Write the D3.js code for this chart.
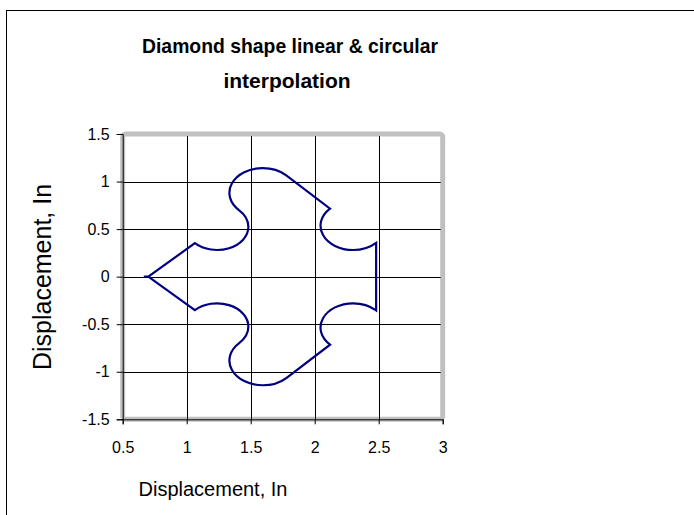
<!DOCTYPE html>
<html>
<head>
<meta charset="utf-8">
<script src="https://cdn.jsdelivr.net/npm/d3@7"></script>
<style>
  html, body { margin: 0; padding: 0; background: #fff; }
  svg { display: block; font-family: Arial, "Liberation Sans", sans-serif; }
</style>
</head>
<body>
<svg id="chart" width="694" height="515"></svg>
<script>
// ---- data ----
const titleLines = ["Diamond shape linear & circular", "interpolation"];
const xAxisTitle = "Displacement, In";
const yAxisTitle = "Displacement, In";
const xTicks = [0.5, 1, 1.5, 2, 2.5, 3];
const xTickLabels = ["0.5", "1", "1.5", "2", "2.5", "3"];
const yTicks = [-1.5, -1, -0.5, 0, 0.5, 1, 1.5];
const yTickLabels = ["-1.5", "-1", "-0.5", "0", "0.5", "1", "1.5"];

// tool path: move / line / circular arc (radius, direction) ending at (x, y)
const pathKind  = ["M",   "L", "L",    "A",    "A",   "A",    "A",    "L",   "A",   "A",   "L",    "A",   "A",    "L",    "A",    "A",    "A",    "A",    "L"];
const pathX     = [0.665, 0.7, 1.064,  1.482,  1.41,  1.594,  1.778,  2.12,  2.30,  2.48,  2.48,   2.30,  2.12,   1.778,  1.594,  1.41,   1.482,  1.064,  0.7];
const pathY     = [0,     0,   0.352,  0.525,  0.698, 1.142,  1.066,  0.715, 0.28,  0.355, -0.355, -0.28, -0.715, -1.066, -1.142, -0.698, -0.525, -0.352, 0];
const pathR     = [0,     0,   0,      0.245,  0.245, 0.26,   0.26,   0,     0.255, 0.255, 0,      0.255, 0.255,  0,      0.26,   0.26,   0.245,  0.245,  0];
const pathCW    = [0,     0,   0,      0,      0,     1,      1,      0,     0,     0,     0,      0,     0,      0,      1,      1,      0,      0,      0];

// ---- drawing ----
const svg = d3.select("#chart");
const x = d3.scaleLinear().domain([0.5, 3]).range([122.7, 442.7]);
const y = d3.scaleLinear().domain([-1.5, 1.5]).range([419.3, 134]);

// outer chart border
svg.append("rect").attr("x", 6.5).attr("y", 10.5).attr("width", 720).attr("height", 600)
  .attr("fill", "#fff").attr("stroke", "#000").attr("stroke-width", 1);

// title
svg.append("text").attr("x", 290).attr("y", 53).attr("text-anchor", "middle")
  .attr("textLength", 296).attr("lengthAdjust", "spacingAndGlyphs")
  .style("font-size", "21px").style("font-weight", "bold").text(titleLines[0]);
svg.append("text").attr("x", 287).attr("y", 88).attr("text-anchor", "middle")
  .style("font-size", "21px").style("font-weight", "bold").text(titleLines[1]);

// plot area gray frame
svg.append("rect").attr("x", x(0.5)).attr("y", y(1.5)).attr("width", x(3) - x(0.5)).attr("height", y(-1.5) - y(1.5))
  .attr("fill", "#fff").attr("stroke", "#c0c0c0").attr("stroke-width", 5).attr("rx", 3);

// gridlines
const g = svg.append("g");
g.selectAll(".vg").data(xTicks.slice(1, -1)).join("line")
  .attr("x1", d => Math.round(x(d)) + 0.5).attr("x2", d => Math.round(x(d)) + 0.5)
  .attr("y1", y(1.5) + 2).attr("y2", y(-1.5)).attr("stroke", "#000").attr("stroke-width", 1);
g.selectAll(".hg").data(yTicks.slice(1, -1)).join("line")
  .attr("y1", d => Math.round(y(d)) + 0.5).attr("y2", d => Math.round(y(d)) + 0.5)
  .attr("x1", x(0.5)).attr("x2", x(3) - 2).attr("stroke", "#000").attr("stroke-width", 1);

// axes
const xAxis = d3.axisBottom(x).tickValues(xTicks).tickFormat((d, i) => xTickLabels[i]).tickSizeOuter(0).tickSize(5).tickPadding(17);
const yAxis = d3.axisLeft(y).tickValues(yTicks).tickFormat((d, i) => yTickLabels[i]).tickSizeOuter(0).tickSize(6).tickPadding(7);
const gx = svg.append("g").attr("transform", `translate(0,${y(-1.5)})`).call(xAxis);
const gy = svg.append("g").attr("transform", `translate(${x(0.5)},0)`).call(yAxis);
[gx, gy].forEach(a => {
  a.attr("font-size", null).attr("font-family", null);
  a.selectAll("path").attr("stroke", "#000").attr("stroke-width", 1);
  a.selectAll("line").attr("stroke", "#000");
  a.selectAll("text").style("font-size", "16px").attr("fill", "#000")
    .style("font-family", "Arial, 'Liberation Sans', sans-serif");
});

// shape path
const sx = x(1) - x(0), sy = y(0) - y(1);
let d = "";
pathKind.forEach((k, i) => {
  const px = x(pathX[i]), py = y(pathY[i]);
  if (k === "M") d += `M${px},${py}`;
  else if (k === "L") d += `L${px},${py}`;
  else d += `A${pathR[i] * sx},${pathR[i] * sy} 0 0 ${pathCW[i]} ${px},${py}`;
});
svg.append("path").attr("d", d).attr("fill", "none").attr("stroke", "#000080")
  .attr("stroke-width", 2.2).attr("stroke-linejoin", "miter");

// axis titles
svg.append("text").attr("x", 213).attr("y", 496).attr("text-anchor", "middle")
  .style("font-size", "20px").text(xAxisTitle);
svg.append("text").attr("transform", `translate(51,277) rotate(-90)`).attr("text-anchor", "middle")
  .style("font-size", "25px").text(yAxisTitle);
</script>
</body>
</html>
